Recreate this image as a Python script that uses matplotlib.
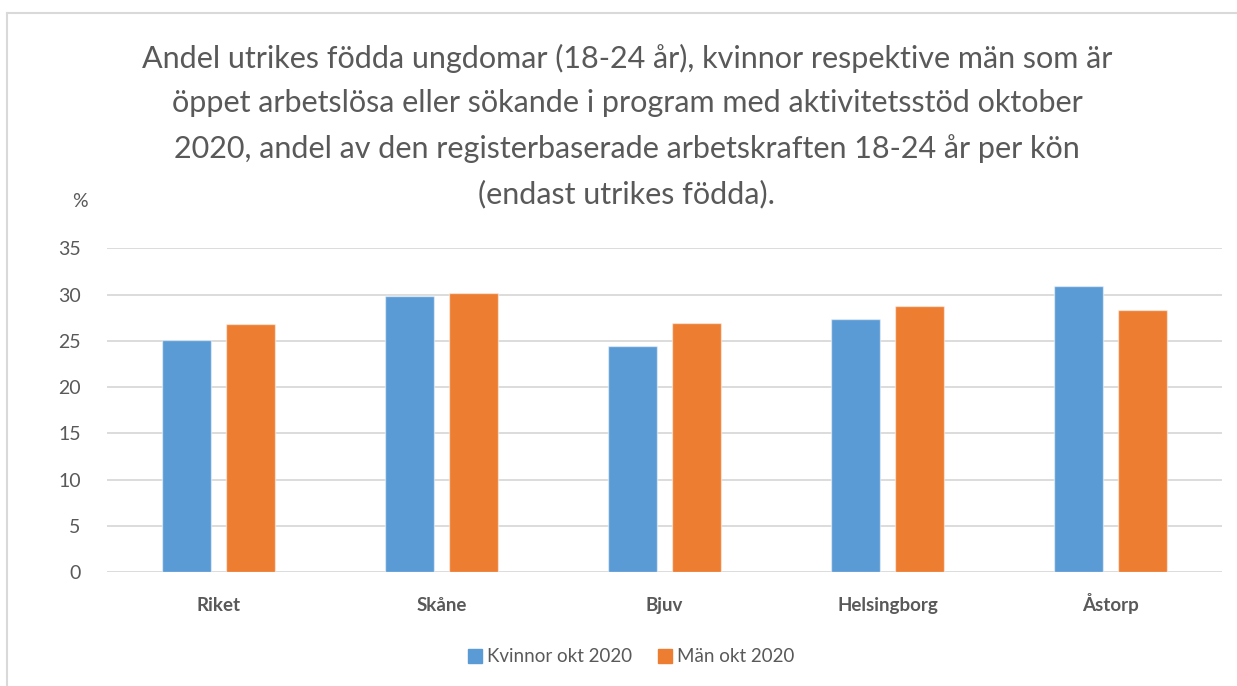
import matplotlib.pyplot as plt
import numpy as np
from matplotlib.lines import Line2D

# Data (percent)
categories = ["Riket", "Skåne", "Bjuv", "Helsingborg", "Åstorp"]
kvinnor = [25.1, 29.9, 24.4, 27.4, 30.9]
man = [26.8, 30.2, 26.9, 28.8, 28.3]
series_labels = ["Kvinnor okt 2020", "Män okt 2020"]
yticks = [0, 5, 10, 15, 20, 25, 30, 35]

title = (
    "Andel utrikes födda ungdomar (18-24 år), kvinnor respektive män som är\n"
    "öppet arbetslösa eller sökande i program med aktivitetsstöd oktober\n"
    "2020, andel av den registerbaserade arbetskraften 18-24 år per kön\n"
    "(endast utrikes födda)."
)

blue = "#5B9BD5"
orange = "#ED7D31"
grey_text = "#595959"

plt.rcParams["font.family"] = ["Lato", "DejaVu Sans"]

fig = plt.figure(figsize=(12.37, 6.86), dpi=100)
ax = fig.add_axes([0.0865, 0.1657, 0.9014, 0.4723])

x = np.arange(len(categories))
w = 0.22
off = 0.142
edge = (1, 1, 1, 0.5)
ax.bar(x - off, kvinnor, w, color=blue, edgecolor=edge, linewidth=1, zorder=3)
ax.bar(x + off, man, w, color=orange, edgecolor=edge, linewidth=1, zorder=3)

ax.set_xlim(-0.5, len(categories) - 0.5)
ax.set_ylim(0, 35)
ax.set_yticks(yticks)
ax.yaxis.grid(True, color="#D9D9D9", linewidth=1.3, zorder=0)
ax.set_axisbelow(True)
for s in ax.spines.values():
    s.set_visible(False)
ax.tick_params(axis="y", length=0, pad=19, labelsize=14, labelcolor=grey_text)
ax.tick_params(axis="x", length=0, pad=28, labelsize=13.5, labelcolor=grey_text)
ax.set_xticks(x)
ax.set_xticklabels(categories, fontweight="bold")
for lbl in ax.get_xticklabels():
    lbl.set_va("baseline")

fig.text(80 / 1237, 1 - 202 / 686, "%", ha="center", va="center",
         fontsize=14, color=grey_text)

fig.text(627 / 1237, 1 - 44 / 686, title, ha="center", va="top",
         fontsize=22, color=grey_text, linespacing=1.7)

handles = [
    Line2D([], [], marker="s", linestyle="none", markersize=10, color=blue),
    Line2D([], [], marker="s", linestyle="none", markersize=10, color=orange),
]
fig.legend(handles, series_labels, loc="center",
           bbox_to_anchor=(630 / 1237, 1 - 657 / 686), ncol=2, frameon=False,
           fontsize=13.5, labelcolor=grey_text, handletextpad=0.1,
           columnspacing=1.3, handlelength=1)

# partial chart frame (top and left edges visible in the crop)
fig.add_artist(Line2D([7 / 1237, 7 / 1237], [0, 1 - 13 / 686],
                      transform=fig.transFigure, color="#D9D9D9", linewidth=1.5))
fig.add_artist(Line2D([7 / 1237, 1], [1 - 13 / 686, 1 - 13 / 686],
                      transform=fig.transFigure, color="#D9D9D9", linewidth=1.5))

fig.savefig("out.png", dpi=100)
